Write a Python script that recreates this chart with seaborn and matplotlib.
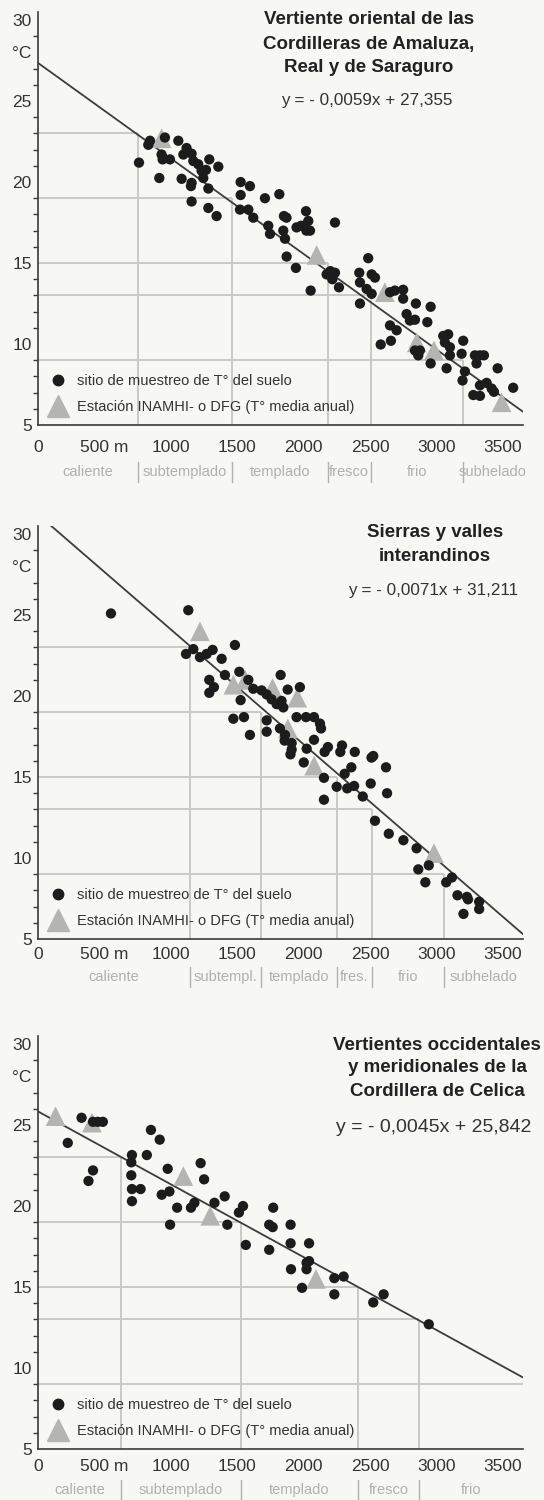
import numpy as np
import pandas as pd
import matplotlib
matplotlib.use("Agg")
import matplotlib.pyplot as plt
import seaborn as sns
from matplotlib.lines import Line2D

sns.set_theme(style="white")
plt.rcParams['font.family'] = ['Liberation Sans', 'DejaVu Sans']

# ---------------- data ----------------
# Panel 1: Vertiente oriental de las Cordilleras de Amaluza, Real y de Saraguro
p1_dot_alt = [760, 830, 843, 955, 1056, 930, 938, 993, 913, 1081, 1094, 1118, 1156, 1169, 1206, 1231,
              1264, 1244, 1156, 1151, 1289, 1357, 1282, 1156, 1282, 1344, 1525, 1595, 1525, 1708, 1816,
              1520, 1583, 1620, 1733, 1746, 1851, 1870, 1846, 1859, 2017, 1946, 1980, 2001, 2047, 2034,
              2020, 2235, 1871, 1941, 2052, 2485, 2172, 2200, 2215, 2235, 2265, 2418, 2423, 2511, 2536,
              2473, 2511, 2649, 2686, 2748, 2748, 2423, 2844, 2955, 2774, 2799, 2837, 2930, 2649, 2699,
              2579, 2656, 2837, 2874, 2862, 3050, 3087, 3062, 3100, 3100, 2955, 3075, 3200, 3188, 3288,
              3326, 3356, 3300, 3213, 3195, 3459, 3326, 3376, 3414, 3431, 3276, 3326, 3576]
p1_dot_t = [21.2, 22.3, 22.55, 22.75, 22.55, 21.7, 21.4, 21.4, 20.25, 20.2, 21.7, 22.1, 21.75, 21.3, 21.1, 20.7,
            20.75, 20.25, 19.95, 19.75, 21.4, 20.95, 19.6, 18.8, 18.4, 17.9, 20.0, 19.75, 19.2, 19.0, 19.25,
            18.3, 18.3, 17.8, 17.3, 16.8, 17.9, 17.8, 17.0, 16.5, 18.2, 17.2, 17.3, 17.3, 17.0, 17.6,
            17.0, 17.5, 15.4, 14.7, 13.3, 15.3, 14.3, 14.5, 14.0, 14.4, 13.5, 14.4, 13.8, 14.3, 14.1,
            13.4, 13.1, 13.2, 13.3, 13.35, 12.8, 12.5, 12.5, 12.3, 11.85, 11.45, 11.5, 11.35, 11.15, 10.85,
            9.97, 10.2, 9.6, 9.6, 9.3, 10.5, 10.6, 10.1, 9.8, 9.3, 8.8, 8.5, 10.2, 9.4, 9.3,
            9.3, 9.3, 8.8, 8.3, 7.75, 8.5, 7.45, 7.6, 7.25, 7.05, 6.85, 6.8, 7.3]
p1_sta_alt = [930, 2097, 2610, 2850, 2980, 3489]
p1_sta_t = [22.7, 15.5, 13.2, 10.1, 9.6, 6.4]
p1_slope, p1_icpt = -0.0059, 27.355
p1_bounds = [755, 1457, 2180, 2505, 3195]
p1_zones = ["caliente", "subtemplado", "templado", "fresco", "frio", "subhelado"]
p1_title = ["Vertiente oriental de las", "Cordilleras de Amaluza,", "Real y de Saraguro"]
p1_eq = "y = - 0,0059x + 27,355"

# Panel 2: Sierras y valles interandinos
p2_dot_alt = [549, 1131, 1114, 1169, 1219, 1269, 1314, 1382, 1482, 1289, 1324, 1289, 1407, 1515, 1583,
              1826, 1879, 1971, 1620, 1683, 1721, 1758, 1796, 1846, 1833, 1525, 1470, 1550, 1595, 1721,
              1721, 1821, 1859, 1909, 1909, 1946, 2017, 2077, 2122, 2130, 2022, 2077, 1856, 1900, 2000,
              2157, 2182, 2288, 2275, 2384, 2152, 2152, 2248, 2308, 2327, 2379, 2358, 2444, 2504, 2510,
              2523, 2619, 2627, 2536, 2640, 2750, 2849, 2862, 2941, 2915, 3072, 3115, 3157, 3202, 3228,
              3236, 3320, 3320]
p2_dot_t = [25.1, 25.3, 22.6, 22.9, 22.4, 22.6, 22.85, 22.3, 23.15, 21.0, 20.55, 20.2, 21.3, 21.5, 21.0,
            21.3, 20.4, 20.55, 20.45, 20.35, 20.1, 19.8, 19.5, 19.3, 19.7, 19.75, 18.6, 18.7, 17.6, 18.5,
            17.8, 18.0, 17.6, 17.1, 16.7, 18.7, 18.7, 18.7, 18.3, 18.0, 16.75, 17.3, 17.25, 16.4, 15.9,
            16.55, 16.85, 16.95, 16.55, 16.55, 14.95, 13.6, 14.4, 15.2, 14.3, 14.45, 15.6, 13.8, 14.6, 16.2,
            16.3, 15.6, 14.0, 12.3, 11.5, 11.1, 10.6, 9.3, 9.55, 8.5, 8.5, 8.8, 7.7, 6.55, 7.6,
            7.45, 7.3, 6.85]
p2_sta_alt = [1219, 1470, 1560, 1765, 1951, 1880, 2078, 2980]
p2_sta_t = [24.0, 20.7, 21.0, 20.5, 19.9, 18.0, 15.7, 10.3]
p2_slope, p2_icpt = -0.0071, 31.211
p2_bounds = [1145, 1680, 2252, 2511, 3053]
p2_zones = ["caliente", "subtempl.", "templado", "fres.", "frio", "subhelado"]
p2_title = ["Sierras y valles", "interandinos"]
p2_eq = "y = - 0,0071x + 31,211"

# Panel 3: Vertientes occidentales y meridionales de la Cordillera de Celica
p3_dot_alt = [328, 414, 450, 488, 224, 414, 380, 707, 702, 702, 707, 707, 772, 819, 850, 916, 976, 931,
              989, 994, 1047, 1151, 1177, 1224, 1250, 1328, 1405, 1425, 1512, 1543, 1564, 1740, 1766,
              1740, 1770, 1901, 1901, 2040, 1904, 2021, 2040, 2021, 1987, 2230, 2300, 2230, 2523, 2601,
              2941]
p3_dot_t = [25.45, 25.2, 25.2, 25.2, 23.9, 22.2, 21.55, 23.15, 22.7, 21.9, 21.05, 20.3, 21.05, 23.15, 24.7,
            24.1, 22.3, 20.7, 20.9, 18.85, 19.9, 19.9, 20.2, 22.65, 21.65, 20.2, 20.6, 18.85, 19.6, 20.0,
            17.6, 18.85, 18.7, 17.3, 19.9, 18.85, 17.7, 17.7, 16.1, 16.1, 16.6, 16.5, 14.95, 15.55, 15.65,
            14.55, 14.05, 14.55, 12.7]
p3_sta_alt = [132, 406, 1094, 1296, 2092]
p3_sta_t = [25.55, 25.15, 21.85, 19.4, 15.5]
p3_slope, p3_icpt = -0.0045, 25.842
p3_bounds = [628, 1525, 2405, 2868, None]
p3_zones = ["caliente", "subtemplado", "templado", "fresco", "frio"]
p3_title = ["Vertientes occidentales", "y meridionales de la", "Cordillera de Celica"]
p3_eq = "y = - 0,0045x + 25,842"

thresholds = [23, 19, 15, 13, 9]
x_ticks = [0, 500, 1000, 1500, 2000, 2500, 3000, 3500]
x_ticklabels = ["0", "500 m", "1000", "1500", "2000", "2500", "3000", "3500"]
y_ticks = [5, 10, 15, 20, 25, 28, 30]
y_ticklabels = ["5", "10", "15", "20", "25", "°C", "30"]
legend_labels = ["sitio de muestreo de T° del suelo", "Estación INAMHI- o DFG (T° media anual)"]

# ---------------- style ----------------
BG = '#f7f7f4'
DOT = '#1c1c1c'
TRI = '#b4b4b2'
GRID = '#c9c9c6'
LINE = '#3c3c3c'
AXC = '#3a3a3a'
ZONEC = '#b0b0ae'
XMAX = 3650
YLIM = (5, 30.5)

W, H = 544, 1500
fig = plt.figure(figsize=(W / 100, H / 100), dpi=100, facecolor=BG)

panels = [
    dict(dx=p1_dot_alt, dy=p1_dot_t, sx=p1_sta_alt, sy=p1_sta_t, a=p1_slope, b=p1_icpt,
         bounds=p1_bounds, zones=p1_zones, title=p1_title, eq=p1_eq,
         rect=[38 / W, 1 - 425 / H, 485 / W, 413 / H], zone_y=-0.114, xpad=8,
         title_xy=(369, [20, 44, 68]), eq_xy=(367, 101), eq_fs=12.3),
    dict(dx=p2_dot_alt, dy=p2_dot_t, sx=p2_sta_alt, sy=p2_sta_t, a=p2_slope, b=p2_icpt,
         bounds=p2_bounds, zones=p2_zones, title=p2_title, eq=p2_eq,
         rect=[38 / W, 1 - 939 / H, 485 / W, 413 / H], zone_y=-0.092, xpad=3,
         title_xy=(435, [533, 557]), eq_xy=(433, 590), eq_fs=12.3),
    dict(dx=p3_dot_alt, dy=p3_dot_t, sx=p3_sta_alt, sy=p3_sta_t, a=p3_slope, b=p3_icpt,
         bounds=p3_bounds, zones=p3_zones, title=p3_title, eq=p3_eq,
         rect=[38 / W, 1 - 1449 / H, 485 / W, 413 / H], zone_y=-0.099, xpad=4,
         title_xy=(437, [1045, 1068, 1092]), eq_xy=(434, 1128), eq_fs=14),
]

for p in panels:
    ax = fig.add_axes(p['rect'])
    ax.set_facecolor(BG)
    ax.set_xlim(0, XMAX)
    ax.set_ylim(*YLIM)

    # zone grid lines
    for t, bnd in zip(thresholds, p['bounds']):
        if bnd is None:
            ax.hlines(t, 0, XMAX, color=GRID, lw=1.4, zorder=1)
        else:
            ax.hlines(t, 0, bnd, color=GRID, lw=1.4, zorder=1)
            ax.vlines(bnd, YLIM[0], t, color=GRID, lw=1.4, zorder=1)

    # regression line
    xr = np.array([0, XMAX])
    line_df = pd.DataFrame({'alt': xr, 'temp': p['a'] * xr + p['b']})
    sns.lineplot(data=line_df, x='alt', y='temp', ax=ax, color=LINE, lw=1.3, zorder=2)

    # stations (triangles) and soil sample sites (dots)
    sta_df = pd.DataFrame({'alt': p['sx'], 'temp': p['sy']})
    sns.scatterplot(data=sta_df, x='alt', y='temp', ax=ax, marker='^', s=200, color=TRI,
                    edgecolor='none', zorder=3)
    dot_df = pd.DataFrame({'alt': p['dx'], 'temp': p['dy']})
    sns.scatterplot(data=dot_df, x='alt', y='temp', ax=ax, marker='o', s=55, color=DOT,
                    edgecolor='none', zorder=4)

    ax.set_xlabel('')
    ax.set_ylabel('')

    # axes styling
    for side in ['top', 'right']:
        ax.spines[side].set_visible(False)
    for side in ['left', 'bottom']:
        ax.spines[side].set_color(AXC)
        ax.spines[side].set_linewidth(1.2)
    ax.set_xticks(x_ticks)
    ax.set_xticklabels(x_ticklabels, fontsize=12.5, color='#333333')
    ax.set_yticks(y_ticks)
    ax.set_yticklabels(y_ticklabels, fontsize=12.5, color='#333333')
    ax.set_yticks(np.arange(5, 31, 1), minor=True)
    ax.tick_params(axis='x', which='major', direction='inout', length=6, width=1.1, color=AXC,
                   pad=p['xpad'])
    ax.tick_params(axis='y', which='major', direction='inout', length=7, width=1.1, color=AXC, pad=1)
    ax.tick_params(axis='y', which='minor', direction='out', length=3.5, width=1.0, color=AXC, left=True)

    # zone labels below the axis
    trans = ax.get_xaxis_transform()
    edges = [0] + [b for b in p['bounds'] if b is not None] + [XMAX]
    for i, name in enumerate(p['zones']):
        xm = (edges[i] + edges[i + 1]) / 2
        ax.text(xm, p['zone_y'], name, transform=trans, ha='center', va='center',
                fontsize=10.5, color=ZONEC, clip_on=False)
    for b in p['bounds']:
        if b is None:
            continue
        ax.plot([b, b], [p['zone_y'] - 0.024, p['zone_y'] + 0.024], transform=trans,
                color=ZONEC, lw=1.0, clip_on=False)

    # legend
    handles = [Line2D([], [], marker='o', ls='none', color=DOT, markersize=7.5),
               Line2D([], [], marker='^', ls='none', color=TRI, markersize=16)]
    leg = ax.legend(handles, legend_labels, loc='lower left', bbox_to_anchor=(0.0, 0.0),
                    frameon=False, fontsize=10.5, handletextpad=0.6, labelspacing=0.85,
                    borderaxespad=0.55, borderpad=0.2, handlelength=1.3, labelcolor='#333333')

    # title and equation
    tx, tys = p['title_xy']
    for line, ty in zip(p['title'], tys):
        fig.text(tx / W, 1 - ty / H, line, ha='center', va='center', fontsize=13.5,
                 fontweight='bold', color='#222222')
    ex, ey = p['eq_xy']
    fig.text(ex / W, 1 - ey / H, p['eq'], ha='center', va='center', fontsize=p['eq_fs'],
             color='#333333')

fig.savefig('out.png', dpi=100, facecolor=BG)
